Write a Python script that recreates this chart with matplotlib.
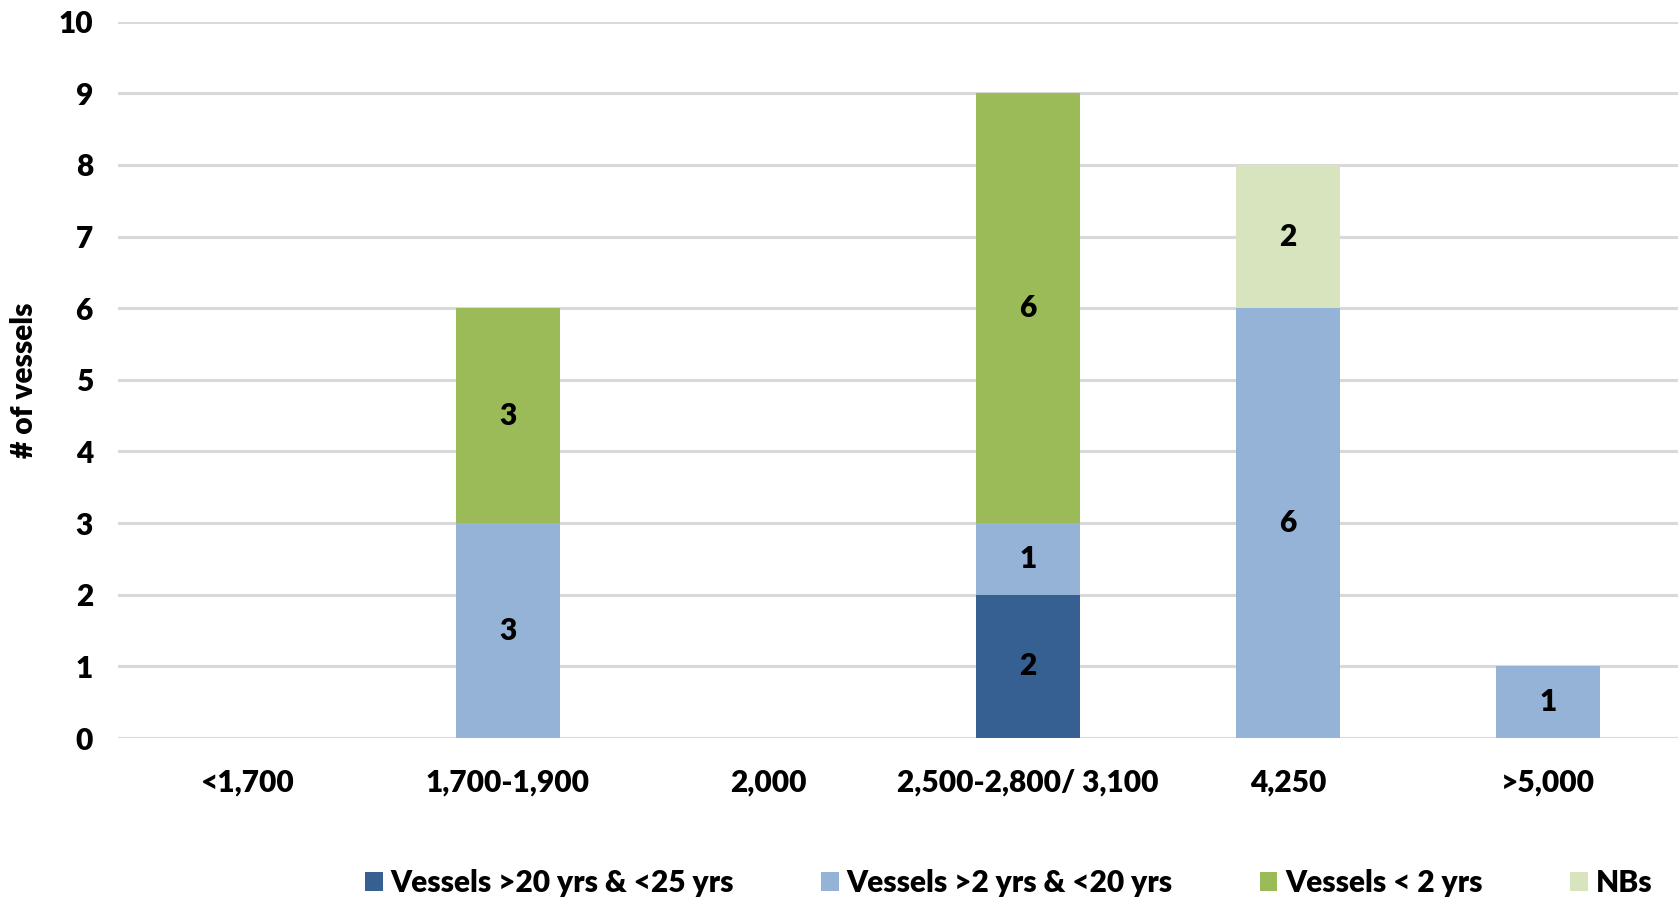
import matplotlib
matplotlib.use("Agg")
import matplotlib.pyplot as plt
import numpy as np
from matplotlib.patches import Patch

categories = ["<1,700", "1,700-1,900", "2,000", "2,500-2,800/ 3,100", "4,250", ">5,000"]
series_names = ["Vessels >20 yrs & <25 yrs", "Vessels >2 yrs & <20 yrs", "Vessels < 2 yrs", "NBs"]
vessels_20_25 = [0, 0, 0, 2, 0, 0]
vessels_2_20 = [0, 3, 0, 1, 6, 1]
vessels_lt2 = [0, 3, 0, 6, 0, 0]
newbuilds = [0, 0, 0, 0, 2, 0]
y_ticks = [0, 1, 2, 3, 4, 5, 6, 7, 8, 9, 10]

colors = ["#376092", "#95B3D7", "#9BBB59", "#D7E4BD"]
FONT = "Lato"
WEIGHT = "heavy"
SIZE = 21.5

fig = plt.figure(figsize=(16.8, 8.99), dpi=100)
ax = fig.add_axes([0.0702, 0.179, 0.9286, 0.797])

x = np.arange(len(categories))
bottom = np.zeros(len(categories))
for name, vals, col in zip(series_names, [vessels_20_25, vessels_2_20, vessels_lt2, newbuilds], colors):
    vals = np.array(vals, dtype=float)
    ax.bar(x, vals, width=0.4, bottom=bottom, color=col, zorder=3, label=name)
    for xi, b, v in zip(x, bottom, vals):
        if v > 0:
            ax.text(xi, b + v / 2, f"{int(v)}", ha="center", va="center",
                    fontsize=SIZE, fontweight=WEIGHT, family=FONT, color="black", zorder=4)
    bottom += vals

ax.set_xlim(-0.5, len(categories) - 0.5)
ax.set_ylim(0, 10)
ax.set_yticks(y_ticks)
ax.set_xticks(x)
ax.set_xticklabels(categories)
ax.yaxis.grid(True, color="#D9D9D9", linewidth=2.2, zorder=0)
ax.set_axisbelow(True)
for s in ax.spines.values():
    s.set_visible(False)
ax.tick_params(axis="both", length=0)
ax.tick_params(axis="y", pad=18)
ax.tick_params(axis="x", pad=22)
for lab in ax.get_xticklabels() + ax.get_yticklabels():
    lab.set_fontsize(SIZE)
    lab.set_fontweight(WEIGHT)
    lab.set_family(FONT)

fig.text(0.0143, 0.5773, "# of vessels", rotation=90, ha="center", va="center",
         fontsize=SIZE, fontweight=WEIGHT, family=FONT)

handles = [Patch(facecolor=c, edgecolor="none") for c in colors]
leg = fig.legend(handles, series_names, loc="center", bbox_to_anchor=(0.6003, 0.018),
                 ncol=4, frameon=False, handlelength=0.6, handleheight=0.6,
                 handletextpad=0.27, columnspacing=2.9, borderpad=0.0,
                 prop={"family": FONT, "weight": WEIGHT, "size": SIZE})

fig.savefig("out.png", dpi=100, facecolor="white")
